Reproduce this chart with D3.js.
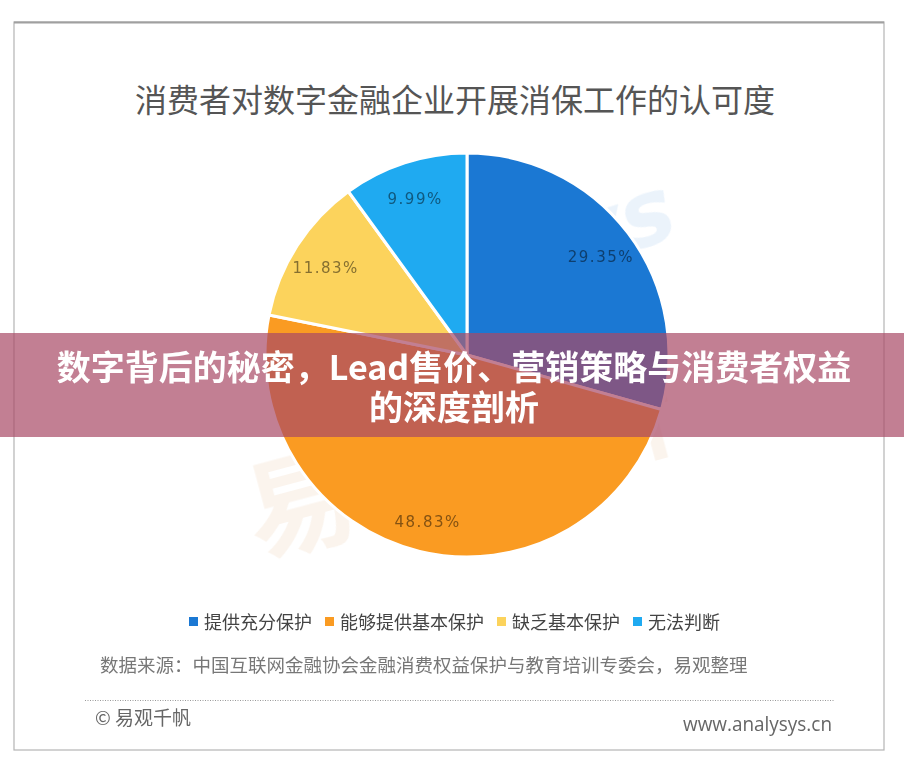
<!DOCTYPE html>
<html><head><meta charset="utf-8">
<script src="https://cdn.jsdelivr.net/npm/d3@7/dist/d3.min.js"></script>
<style>body{margin:0;background:#fff}svg{display:block}</style>
</head><body>
<svg id="c" width="904" height="770"></svg>
<script>
const categories = ["提供充分保护", "能够提供基本保护", "缺乏基本保护", "无法判断"];
const values = [29.35, 48.83, 11.83, 9.99];
const valueLabels = ["29.35%", "48.83%", "11.83%", "9.99%"];
const colors = ["#1b78d3", "#fa9b22", "#fcd35c", "#1faaf1"];
const title = "消费者对数字金融企业开展消保工作的认可度";
const source = "数据来源：中国互联网金融协会金融消费权益保护与教育培训专委会，易观整理";
const bannerLines = ["数字背后的秘密，Lead售价、营销策略与消费者权益", "的深度剖析"];

const svg = d3.select("#c");
const W = 904, H = 770;
const cjk = "'Noto Sans CJK SC','Noto Sans',sans-serif";

// frame
svg.append("rect").attr("x", 14).attr("y", 22).attr("width", 870).attr("height", 728)
  .attr("fill", "#fff").attr("stroke", "#b4b4b4").attr("stroke-width", 1.2);
svg.append("line").attr("x1", 14).attr("x2", 884).attr("y1", 22.5).attr("y2", 22.5)
  .attr("stroke", "#a0a0a0").attr("stroke-width", 2);

// watermark
const wm = svg.append("g").attr("opacity", 0.09);
wm.append("text").attr("x", 560).attr("y", 275).attr("transform", "rotate(-18,560,275)")
  .attr("text-anchor", "middle").attr("font-family", "'DejaVu Sans',sans-serif")
  .attr("font-weight", "bold").attr("font-style", "italic").attr("font-size", 90).attr("fill", "#1b78d3").text("lysys");
wm.append("text").attr("x", 470).attr("y", 500).attr("transform", "rotate(-15,470,500)")
  .attr("text-anchor", "middle").attr("font-family", cjk).attr("font-weight", "bold")
  .attr("font-size", 110).attr("fill", "#d08030").text("易观分析");

// title
svg.append("text").attr("x", 455).attr("y", 112).attr("text-anchor", "middle")
  .attr("font-family", cjk).attr("font-size", 32).attr("fill", "#555").text(title);

// pie
const cx = 467, cy = 355, R = 202;
const pie = d3.pie().sort(null).value(d => d);
const arcs = pie(values);
const arc = d3.arc().innerRadius(0).outerRadius(R);
const labelArc = d3.arc().innerRadius(168).outerRadius(168);
const g = svg.append("g").attr("transform", `translate(${cx},${cy})`);
g.selectAll("path").data(arcs).join("path")
  .attr("d", arc).attr("fill", (d, i) => colors[i])
  .attr("stroke", "#fff").attr("stroke-width", 3).attr("stroke-linejoin", "round");
g.selectAll("text").data(arcs).join("text")
  .attr("transform", d => `translate(${labelArc.centroid(d)})`)
  .attr("text-anchor", "middle").attr("dy", "0.6em")
  .attr("font-family", "'DejaVu Sans',sans-serif").attr("font-size", 15)
  .attr("letter-spacing", 1.5)
  .attr("fill", (d, i) => d3.color(colors[i]).darker(1.8))
  .text((d, i) => valueLabels[i]);

// legend
const lg = svg.append("g");
const lfs = 18;
let items = [];
let xpos = 0;
categories.forEach((c, i) => {
  items.push({x: xpos, c, i});
  xpos += 10 + 6 + c.length * lfs + 12;
});
const totalW = xpos - 12;
const lx0 = 455 - totalW / 2;
items.forEach(it => {
  lg.append("rect").attr("x", lx0 + it.x).attr("y", 617).attr("width", 9).attr("height", 9)
    .attr("fill", colors[it.i]);
  lg.append("text").attr("x", lx0 + it.x + 15).attr("y", 629)
    .attr("font-family", cjk).attr("font-size", lfs).attr("fill", "#444").text(it.c);
});

// source
svg.append("text").attr("x", 100).attr("y", 672)
  .attr("font-family", cjk).attr("font-size", 18.5).attr("fill", "#777").text(source);

// dotted line
svg.append("line").attr("x1", 85).attr("x2", 835).attr("y1", 700.5).attr("y2", 700.5)
  .attr("stroke", "#999").attr("stroke-width", 1).attr("stroke-dasharray", "1,1.5");

// footer
svg.append("text").attr("x", 95).attr("y", 725)
  .attr("font-family", cjk).attr("font-size", 19).attr("fill", "#666").text("© 易观千帆");
svg.append("text").attr("x", 832).attr("y", 731).attr("text-anchor", "end")
  .attr("font-family", "'Open Sans',sans-serif").attr("font-size", 20).attr("fill", "#666")
  .attr("textLength", 149).attr("lengthAdjust", "spacingAndGlyphs").text("www.analysys.cn");

// banner
svg.append("rect").attr("x", 0).attr("y", 333).attr("width", W).attr("height", 104)
  .attr("fill", "rgb(168,72,101)").attr("fill-opacity", 0.7);
bannerLines.forEach((t, i) => {
  svg.append("text").attr("x", 454).attr("y", 380 + i * 40).attr("text-anchor", "middle")
    .attr("font-family", cjk).attr("font-weight", "bold").attr("font-size", 34)
    .attr("fill", "#fff").text(t);
});
</script>
</body></html>
